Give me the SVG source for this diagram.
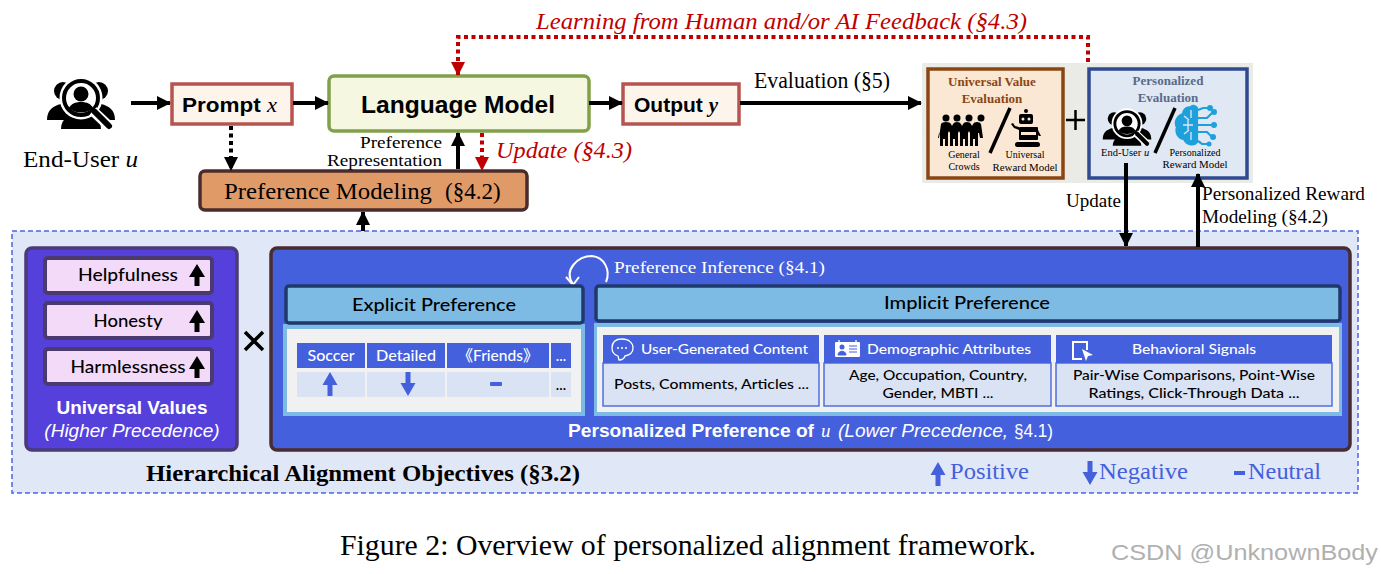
<svg xmlns="http://www.w3.org/2000/svg" width="1381" height="574" viewBox="0 0 1381 574">
<style>
text{font-family:"Liberation Serif",serif;fill:#000}
.s{font-family:"Liberation Sans",Arial,sans-serif}
.h{font-family:"Lato","Open Sans","Noto Sans CJK SC",sans-serif;font-weight:500}
.w{fill:#fff}
.r{fill:#c00000;font-style:italic}
.b{font-weight:bold}
.i{font-style:italic}
.m{text-anchor:middle}
.con{fill:none;stroke:#000;stroke-width:4}
.red{fill:none;stroke:#c00000;stroke-width:4}
.dot{stroke-dasharray:4 3.500}
.blue{fill:#4460dc}
.tc{fill:#dae3f4}
.body{fill:#dae3f4;stroke:#4f6fe0;stroke-width:1.5}
.vbox{fill:#f3daf9;stroke:#4a3a70;stroke-width:4}
.lab{fill:#4460dc;font-size:24px}
</style>
<defs>
<filter id="speck" x="0" y="0" width="100%" height="100%"><feTurbulence type="fractalNoise" baseFrequency="0.8" numOctaves="2" seed="3"/><feColorMatrix values="0 0 0 0 0.9  0 0 0 0 0.9  0 0 0 0 0.88  0.6 0 0 0 0.1"/><feComposite in2="SourceAlpha" operator="in"/><feMerge><feMergeNode/></feMerge></filter>
<marker id="ab" markerUnits="userSpaceOnUse" markerWidth="15" markerHeight="15" refX="13" refY="7" orient="auto"><path d="M0 0L14 7L0 14z" fill="#000"/></marker>
<marker id="ar" markerUnits="userSpaceOnUse" markerWidth="15" markerHeight="15" refX="13" refY="7" orient="auto"><path d="M0 0L14 7L0 14z" fill="#c00000"/></marker>
<symbol id="user" viewBox="0 0 70 50" overflow="visible">
<circle cx="17" cy="12" r="9" fill="#000"/><circle cx="53" cy="12" r="9" fill="#000"/>
<path d="M1 41c0-10 6-14 14-16h40c8 2 14 6 14 16H1z" fill="#000"/>
<path d="M15 50c0-10 8-16 20-16s20 6 20 16z" fill="#000"/>
<circle cx="35" cy="19" r="21.500" fill="#fff"/>
<circle cx="35" cy="19" r="17" fill="#fff" stroke="#000" stroke-width="4"/>
<circle cx="35" cy="15" r="7.500" fill="#000"/>
<path d="M23 29c2-4 6-6 12-6s10 2 12 6c-6 6-18 6-24 0z" fill="#000"/>
<path d="M47 32L63 47" stroke="#fff" stroke-width="10"/>
<path d="M49 33L63 47" stroke="#000" stroke-width="6" stroke-linecap="round"/>
</symbol>
<path id="up" d="M0-11L8 2H2.500V11H-2.500V2H-8z"/>
<path id="sup" d="M0-12L7.500 1H2.500V12H-2.500V1H-7.500z"/>
</defs>
<rect width="1381" height="574" fill="#fff"/>

<g id="feedback-label"><text class="r" x="536" y="29" font-size="24" textLength="491" lengthAdjust="spacingAndGlyphs">Learning from Human and/or AI Feedback (§4.3)</text></g>

<g id="objectives">
<rect x="12" y="231" width="1346" height="262" fill="#e0e7f7" stroke="#4a66dd" stroke-width="1.500" stroke-dasharray="5 3"/>
<text class="b" x="146" y="481" font-size="23" textLength="434" lengthAdjust="spacingAndGlyphs">Hierarchical Alignment Objectives (§3.2)</text>
<path d="M245 332L263 350M263 332L245 350" stroke="#000" stroke-width="3.500" fill="none"/>
</g>

<g id="end-user"><use href="#user" x="46" y="79" width="70" height="50"/>
<text x="23" y="167" font-size="23" textLength="115" lengthAdjust="spacingAndGlyphs">End-User <tspan class="i">u</tspan></text></g>

<g id="prompt"><rect x="172" y="84" width="120" height="40" fill="#fdf5ec" stroke="#b85450" stroke-width="3.500"/>
<text x="182" y="112" font-size="21" class="s b" textLength="95" lengthAdjust="spacingAndGlyphs">Prompt <tspan font-family="Liberation Serif" class="i" font-weight="normal">x</tspan></text></g>

<g id="language-model"><rect x="329" y="76" width="260" height="55" rx="5" fill="#f6f7e0" stroke="#82a04a" stroke-width="3.500"/>
<text x="458" y="113" font-size="24" class="s b m" textLength="194" lengthAdjust="spacingAndGlyphs">Language Model</text></g>

<g id="output"><rect x="623" y="84" width="116" height="40" fill="#fdf5ec" stroke="#b85450" stroke-width="3.500"/>
<text x="634" y="112" font-size="21" class="s b">Output <tspan font-family="Liberation Serif" class="i">y</tspan></text></g>

<g id="preference-modeling"><rect x="200" y="171" width="327" height="39" rx="5" fill="#e09a68" stroke="#4a2c2c" stroke-width="3.500"/>
<text x="224" y="199" font-size="23"><tspan textLength="208" lengthAdjust="spacingAndGlyphs">Preference Modeling</tspan><tspan x="445">(§4.2)</tspan></text></g>

<g id="connector-labels">
<text x="360" y="148" font-size="16.500" textLength="82" lengthAdjust="spacingAndGlyphs">Preference</text>
<text x="327" y="165.500" font-size="16.500" textLength="115" lengthAdjust="spacingAndGlyphs">Representation</text>
<text class="r" x="496" y="158" font-size="22.500" textLength="136" lengthAdjust="spacingAndGlyphs">Update (§4.3)</text>
<text x="754" y="88" font-size="22.500" textLength="136" lengthAdjust="spacingAndGlyphs">Evaluation (§5)</text>
<text x="1066" y="207" font-size="18" textLength="55" lengthAdjust="spacingAndGlyphs">Update</text>
<text x="1202" y="200" font-size="18.500" textLength="163" lengthAdjust="spacingAndGlyphs">Personalized Reward</text>
<text x="1202" y="223" font-size="18.500" textLength="126" lengthAdjust="spacingAndGlyphs">Modeling (§4.2)</text>
</g>

<g id="evaluation-bg"><rect x="922" y="63" width="331" height="120" fill="#e4e4e0"/><rect x="922" y="63" width="331" height="120" fill="#000" filter="url(#speck)"/></g>

<g id="universal-evaluation">
<rect x="928" y="69" width="135" height="109" fill="#fae8d5" stroke="#8b4513" stroke-width="3.500"/>
<text class="b m" x="992" y="86" font-size="13" style="fill:#8b4513">Universal Value</text>
<text class="b m" x="992" y="103" font-size="13" style="fill:#8b4513">Evaluation</text>
<g fill="#000"><circle cx="946" cy="118" r="3.500"/><circle cx="957" cy="118" r="3.500"/><circle cx="969" cy="118" r="3.500"/><circle cx="981" cy="118" r="3.500"/>
<path d="M939 138l2-14q1-2 5-2t5 2l1 2 1-2q1-2 4-2t4 2l1 2 1-2q1-2 4-2t4 2l1 2 1-2q1-2 4-2t4 2l2 14-3 0-1-5-1 0v13h-3v-7h-2v7h-3v-13l-1-2-1 2v13h-3v-7h-2v7h-3v-13l-1-2-1 2v13h-3v-7h-2v7h-3v-13l-1-2-1 2v13h-3v-7h-2v7h-3v-13h-1l-1 5z"/></g>
<path d="M990 153L1010 108" stroke="#000" stroke-width="3.500"/>
<g fill="#000"><circle cx="1026" cy="111" r="2"/><rect x="1019" y="114" width="14" height="10" rx="2"/><rect x="1019" y="127" width="19" height="13" rx="1"/><rect x="1015" y="142" width="25" height="5" rx="2.500"/><path d="M1019 130l-5-2-3-4 2-1 2 3 4 1zM1038 130l3 6h-2l-3-4z"/></g>
<g fill="#fae8d5"><circle cx="1023" cy="119" r="1.500"/><circle cx="1029" cy="119" r="1.500"/><rect x="1021" y="132" width="15" height="3"/></g>
<text class="m" x="964" y="158" font-size="10">General</text><text class="m" x="964" y="170" font-size="10">Crowds</text>
<text class="m" x="1025" y="158" font-size="10">Universal</text><text class="m" x="1025" y="171" font-size="10" textLength="65" lengthAdjust="spacingAndGlyphs">Reward Model</text>
</g>

<path id="plus" d="M1066 120H1085M1075.500 110V130" stroke="#000" stroke-width="2.500" fill="none"/>

<g id="personalized-evaluation">
<rect x="1089" y="69" width="158" height="109" fill="#dfe8f3" stroke="#2f4a8f" stroke-width="3.500"/>
<text class="b m" x="1168" y="85" font-size="13" style="fill:#5a6a8a">Personalized</text>
<text class="b m" x="1168" y="102" font-size="13" style="fill:#5a6a8a">Evaluation</text>
<use href="#user" x="1102" y="110" width="50" height="36"/>
<path d="M1155 153L1175 108" stroke="#000" stroke-width="3.500"/>
<g fill="none" stroke="#1ea0dc" stroke-width="2.200"><path d="M1191 107c-6 0-8 4-8 7-6 2-9 8-6 13-2 6 2 12 7 12 2 6 10 7 13 3v-34c-1-2-4-3-6-1z" fill="#1ea0dc"/>
<path d="M1197 118h10l5-5M1197 125h14M1197 132h10l4 4M1198 110l5-2h6M1198 141l4 3h5"/></g>
<g fill="#1ea0dc"><circle cx="1214" cy="112" r="3"/><circle cx="1210" cy="108" r="3"/><circle cx="1214" cy="125" r="3"/><circle cx="1213" cy="137" r="3"/><circle cx="1209" cy="144" r="2.500"/></g>
<path d="M1183 125h10M1188 120v10M1184 116l5 4M1184 134l5-4M1191 110v8M1191 132v8" stroke="#dfe8f3" stroke-width="1.300" fill="none"/>
<text x="1101" y="156" font-size="10.500">End-User <tspan class="i">u</tspan></text>
<text class="m" x="1195" y="156" font-size="10">Personalized</text><text class="m" x="1195" y="168" font-size="10" textLength="65" lengthAdjust="spacingAndGlyphs">Reward Model</text>
</g>

<g id="universal-values">
<rect x="26" y="248" width="211" height="202" rx="6" fill="#5540dc" stroke="#4b3a78" stroke-width="3.500"/>
<rect class="vbox" x="45" y="258" width="167" height="35" rx="3"/>
<rect class="vbox" x="45" y="303" width="167" height="35" rx="3"/>
<rect class="vbox" x="45" y="349" width="167" height="35" rx="3"/>
<text class="h m" x="128" y="281" font-size="17" textLength="100" lengthAdjust="spacingAndGlyphs">Helpfulness</text>
<text class="h m" x="128" y="327" font-size="17" textLength="69" lengthAdjust="spacingAndGlyphs">Honesty</text>
<text class="h m" x="128" y="373" font-size="17" textLength="115" lengthAdjust="spacingAndGlyphs">Harmlessness</text>
<use href="#up" x="197" y="275"/><use href="#up" x="197" y="321"/><use href="#up" x="197" y="367"/>
<text class="s b m w" x="132" y="414" font-size="19">Universal Values</text>
<text class="s i m w" x="132" y="437" font-size="19">(Higher Precedence)</text>
</g>

<g id="personalized-preference">
<rect x="271" y="248" width="1079" height="202" rx="6" fill="#4460dc" stroke="#4a2c30" stroke-width="3.500"/>
<path d="M573 284C563 270 578 256 592 256C604 257 611 270 606 282" fill="none" stroke="#fff" stroke-width="2"/>
<path d="M566 277L573 285L579 277" fill="none" stroke="#fff" stroke-width="2"/>
<text class="w" x="614" y="273" font-size="17.500" textLength="211" lengthAdjust="spacingAndGlyphs">Preference Inference (§4.1)</text>
<text class="s w" y="437" font-size="19"><tspan class="b" x="568" textLength="246" lengthAdjust="spacingAndGlyphs">Personalized Preference of</tspan><tspan x="821" font-family="Liberation Serif" class="i">u</tspan><tspan x="838" class="i" textLength="170" lengthAdjust="spacingAndGlyphs">(Lower Precedence,</tspan><tspan x="1014" textLength="39" lengthAdjust="spacingAndGlyphs">§4.1)</tspan></text>
</g>

<g id="explicit-preference">
<rect x="283" y="324" width="302" height="92" fill="#7dbbe4"/>
<rect x="287" y="329" width="294" height="83" fill="#f1f1f1"/>
<rect x="286" y="286" width="297" height="37" rx="3" fill="#7dbbe4" stroke="#1f3a6a" stroke-width="3.500"/>
<text class="h m" x="434" y="311" font-size="17" textLength="164" lengthAdjust="spacingAndGlyphs">Explicit Preference</text>
<rect class="blue" x="297" y="343" width="68" height="25"/><rect class="blue" x="367" y="343" width="78" height="25"/><rect class="blue" x="447" y="343" width="102" height="25"/><rect class="blue" x="551" y="343" width="20" height="25"/>
<rect class="tc" x="297" y="372" width="68" height="25"/><rect class="tc" x="367" y="372" width="78" height="25"/><rect class="tc" x="447" y="372" width="102" height="25"/><rect class="tc" x="551" y="372" width="20" height="25"/>
<g font-size="14.500"><text class="h m w" x="331" y="361" textLength="47" lengthAdjust="spacingAndGlyphs">Soccer</text><text class="h m w" x="406" y="361" textLength="60" lengthAdjust="spacingAndGlyphs">Detailed</text><text class="h m w" x="498" y="361" font-size="15.500">《Friends》</text><text class="h m w" x="561" y="361">...</text><text class="h m" x="561" y="390">...</text></g>
<use href="#sup" x="330" y="384" class="blue"/>
<use href="#sup" transform="translate(408 384) scale(1 -1)" class="blue"/>
<rect class="blue" x="490" y="382" width="12" height="4" rx="1"/>
</g>

<g id="implicit-preference">
<rect x="594" y="323" width="748" height="93" fill="#7dbbe4"/>
<rect x="597" y="327" width="742" height="85" fill="#f1f1f1"/>
<rect x="596" y="286" width="744" height="35" rx="3" fill="#7dbbe4" stroke="#1f3a6a" stroke-width="3.500"/>
<text class="h m" x="967" y="309" font-size="17" textLength="166" lengthAdjust="spacingAndGlyphs">Implicit Preference</text>
</g>

<g id="user-generated-content">
<rect class="body" x="603" y="363" width="216" height="43"/><rect class="blue" x="603" y="335" width="216" height="28"/>
<path d="M622 339c-7 0-10 4-10 9 0 4 3 7 6 8l1 4c3 0 5-1 6-4 5-1 8-4 8-8 0-5-4-9-11-9z" fill="none" stroke="#fff" stroke-width="1.300"/>
<path d="M617 348h2M621 348h2M625 348h2" stroke="#fff" stroke-width="1.300"/>
<text class="h w" x="641" y="354" font-size="14" textLength="167" lengthAdjust="spacingAndGlyphs">User-Generated Content</text>
<text class="h" x="614" y="389" font-size="14" textLength="195" lengthAdjust="spacingAndGlyphs">Posts, Comments, Articles ...</text>
</g>
<g id="demographic-attributes">
<rect class="body" x="824" y="363" width="227" height="43"/><rect class="blue" x="824" y="335" width="227" height="28"/>
<rect x="835" y="342" width="25" height="15" rx="1" fill="#fff"/><path d="M839 340v3M856 340v3" stroke="#fff" stroke-width="1.300"/><circle cx="842" cy="347" r="2.500" fill="#4460dc"/><path d="M838 355c0-5 8-5 8 0zM849 346h8M849 349h8M849 352h8" fill="#4460dc" stroke="#4460dc"/>
<text class="h w" x="867" y="354" font-size="14" textLength="164" lengthAdjust="spacingAndGlyphs">Demographic Attributes</text>
<text class="h m" x="938" y="380" font-size="14" textLength="178" lengthAdjust="spacingAndGlyphs">Age, Occupation, Country,</text>
<text class="h m" x="938" y="398" font-size="14" textLength="111" lengthAdjust="spacingAndGlyphs">Gender, MBTI ...</text>
</g>
<g id="behavioral-signals">
<rect class="body" x="1056" y="363" width="276" height="43"/><rect class="blue" x="1056" y="335" width="276" height="28"/>
<path d="M1087 350V342H1073V359H1082" fill="none" stroke="#fff" stroke-width="2"/><path d="M1082 349L1093 355L1088 356L1086 361z" fill="#fff"/>
<text class="h m w" x="1194" y="354" font-size="14" textLength="124" lengthAdjust="spacingAndGlyphs">Behavioral Signals</text>
<text class="h m" x="1194" y="380" font-size="14" textLength="242" lengthAdjust="spacingAndGlyphs">Pair-Wise Comparisons, Point-Wise</text>
<text class="h m" x="1194" y="398" font-size="14" textLength="211" lengthAdjust="spacingAndGlyphs">Ratings, Click-Through Data ...</text>
</g>

<g id="legend">
<use href="#sup" x="938" y="474" class="blue"/><text class="lab" x="950" y="479" style="fill:#4460dc" textLength="79" lengthAdjust="spacingAndGlyphs">Positive</text>
<use href="#sup" transform="translate(1090 473) scale(1 -1)" class="blue"/><text class="lab" x="1099" y="479" style="fill:#4460dc" textLength="89" lengthAdjust="spacingAndGlyphs">Negative</text>
<rect class="blue" x="1234" y="471" width="11" height="4"/><text class="lab" x="1248" y="479" style="fill:#4460dc" textLength="73" lengthAdjust="spacingAndGlyphs">Neutral</text>
</g>

<g id="connectors">
<path class="con" d="M131 103H170" marker-end="url(#ab)"/>
<path class="con" d="M293 103H328" marker-end="url(#ab)"/>
<path class="con" d="M589 103H622" marker-end="url(#ab)"/>
<path class="con" d="M740 103H921" marker-end="url(#ab)"/>
<path class="con dot" d="M231 126V170" marker-end="url(#ab)"/>
<path class="con" d="M458 169V133" marker-end="url(#ab)"/>
<path class="red dot" d="M482 133V170" marker-end="url(#ar)"/>
<path class="con" d="M363 231V212" marker-end="url(#ab)"/>
<path class="red dot" d="M1088 62V37H458V75" marker-end="url(#ar)"/>
<path class="con" d="M1126 163V246" marker-end="url(#ab)"/>
<path class="con" d="M1198 247V174" marker-end="url(#ab)"/>
</g>

<text x="340" y="555" font-size="28.500" textLength="696" lengthAdjust="spacingAndGlyphs">Figure 2: Overview of personalized alignment framework.</text>
<text class="s" x="1111" y="560" font-size="22" style="fill:#b0b0b0" textLength="267" lengthAdjust="spacingAndGlyphs">CSDN @UnknownBody</text>
</svg>
